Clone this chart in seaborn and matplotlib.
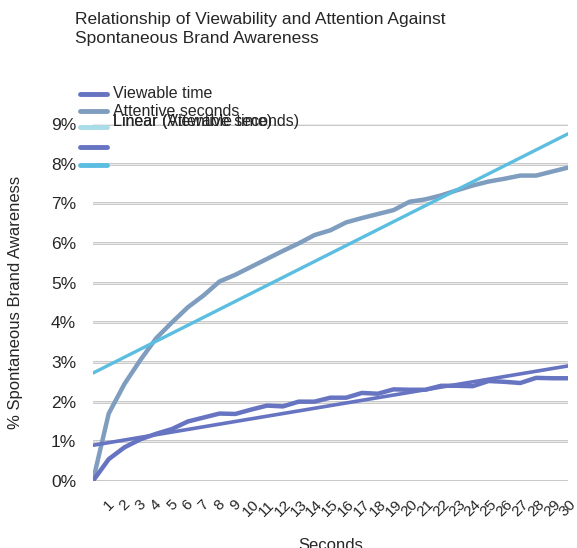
import numpy as np
import pandas as pd
import seaborn as sns
import matplotlib.pyplot as plt
from matplotlib.lines import Line2D
from matplotlib.ticker import PercentFormatter

seconds = list(range(31))
viewable_time = [0.00, 0.55, 0.85, 1.05, 1.19, 1.31, 1.50, 1.60, 1.70, 1.69, 1.80,
                 1.90, 1.88, 2.00, 2.00, 2.10, 2.10, 2.22, 2.20, 2.31, 2.30,
                 2.30, 2.40, 2.40, 2.39, 2.52, 2.50, 2.47, 2.60, 2.59, 2.59]
attentive_seconds = [0.00, 1.70, 2.45, 3.05, 3.60, 4.00, 4.38, 4.68, 5.03, 5.20, 5.40,
                     5.60, 5.80, 5.99, 6.20, 6.32, 6.52, 6.63, 6.73, 6.83, 7.04,
                     7.10, 7.20, 7.33, 7.45, 7.55, 7.62, 7.70, 7.70, 7.80, 7.90]
# trendline end points (x = 0 and x = 30)
trend_x = [0, 30]
linear_attentive = [2.72, 8.75]
linear_viewable = [0.90, 2.90]

c_view = '#6674C2'
c_att = '#7F9DBE'
c_lin_att = '#5BBEE0'
c_light = '#A8DCE6'

df = pd.DataFrame({'Seconds': seconds,
                   'Viewable time': np.array(viewable_time) / 100,
                   'Attentive seconds': np.array(attentive_seconds) / 100})
tr = pd.DataFrame({'x': trend_x,
                   'att': np.array(linear_attentive) / 100,
                   'view': np.array(linear_viewable) / 100})

sns.set_style('white')
plt.rcParams['font.family'] = ['Liberation Sans', 'DejaVu Sans']

fig = plt.figure(figsize=(5.77, 5.48), dpi=100)
ax = fig.add_axes([0.161, 0.1223, 0.823, 0.6514])

for v in np.arange(0, 0.091, 0.01):
    ax.axhline(v, color='#C4C4C4', lw=2.0, zorder=0)
    ax.axhline(v, color='#F2F2F2', lw=0.6, zorder=0)

sns.lineplot(data=df, x='Seconds', y='Attentive seconds', ax=ax, color=c_att, lw=3.2)
sns.lineplot(data=df, x='Seconds', y='Viewable time', ax=ax, color=c_view, lw=3.2)
sns.lineplot(data=tr, x='x', y='att', ax=ax, color=c_lin_att, lw=2.4)
sns.lineplot(data=tr, x='x', y='view', ax=ax, color=c_view, lw=2.6)

ax.set_xlim(0, 30)
ax.set_ylim(0, 0.09)
ax.yaxis.set_major_formatter(PercentFormatter(1.0, decimals=0))
ax.set_yticks(np.arange(0, 0.091, 0.01))
ax.set_xticks(seconds[1:])
ax.set_xticklabels([str(s) for s in seconds[1:]], rotation=45, ha='center', fontsize=11)
ax.tick_params(axis='y', labelsize=12.5, pad=12, length=0)
ax.tick_params(axis='x', length=0, pad=12)
for s in ax.spines.values():
    s.set_visible(False)
ax.set_xlabel('Seconds', fontsize=12, labelpad=13)
ax.set_ylabel('% Spontaneous Brand Awareness', fontsize=12, labelpad=20)

fig.text(0.13, 0.978, 'Relationship of Viewability and Attention Against\nSpontaneous Brand Awareness',
         fontsize=12.5, va='top', ha='left', linespacing=1.3)

# legend, overlapping like the original
legend_handles = [(0.828, c_view), (0.797, c_att), (0.768, c_light), (0.732, c_view), (0.699, c_lin_att)]
for y, c in legend_handles:
    fig.add_artist(Line2D([0.139, 0.186], [y, y], color=c, lw=3.5, transform=fig.transFigure))
fig.text(0.196, 0.829, 'Viewable time', fontsize=11.5, va='center')
fig.text(0.196, 0.797, 'Attentive seconds', fontsize=11.5, va='center')
fig.text(0.196, 0.779, 'Linear (Attentive seconds)', fontsize=11.5, va='center')
fig.text(0.196, 0.779, 'Linear (Viewable time)', fontsize=11.5, va='center')

plt.savefig('out.png', dpi=100)
